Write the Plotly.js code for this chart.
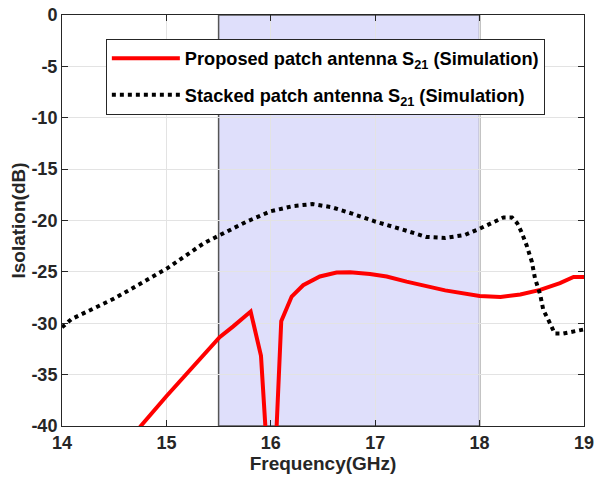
<!DOCTYPE html>
<html>
<head>
<meta charset="utf-8">
<script src="https://cdn.plot.ly/plotly-3.0.1.min.js"></script>
<style>html,body{margin:0;padding:0;background:#fff;}#chart{width:608px;height:477px;}</style>
</head>
<body>
<div id="chart"></div>
<script>
// Proposed patch antenna S21 (Simulation)
const proposedFreq = [14.6, 14.763, 15.0, 15.32, 15.51, 15.64, 15.807, 15.906, 15.944, 15.96, 16.04, 16.056, 16.10, 16.2, 16.31, 16.47, 16.63, 16.76, 16.95, 17.11, 17.3, 17.67, 18.0, 18.2, 18.39, 18.58, 18.77, 18.9, 19.0];
const proposedS21  = [-42, -39.9, -37.1, -33.5, -31.35, -30.3, -28.86, -33.17, -39.9, -42, -42, -40.0, -29.8, -27.4, -26.3, -25.45, -25.07, -25.03, -25.2, -25.45, -25.95, -26.8, -27.35, -27.45, -27.2, -26.75, -26.1, -25.5, -25.5];

// Stacked patch antenna S21 (Simulation)
const stackedFreq = [14.0, 14.09, 14.5, 15.0, 15.36, 15.5, 15.77, 16.0, 16.21, 16.4, 16.58, 16.77, 17.0, 17.3, 17.49, 17.67, 17.86, 18.0, 18.15, 18.23, 18.31, 18.36, 18.40, 18.45, 18.50, 18.53, 18.58, 18.61, 18.66, 18.72, 18.80, 18.96, 19.0];
const stackedS21  = [-30.4, -29.6, -27.6, -24.7, -22.2, -21.5, -20.1, -19.1, -18.6, -18.4, -18.7, -19.3, -20.1, -21.0, -21.6, -21.7, -21.4, -20.8, -20.1, -19.7, -19.7, -20.26, -21.1, -22.4, -24.0, -25.6, -27.2, -28.7, -29.7, -31.0, -31.0, -30.6, -30.6];

const bandStart = 15.5, bandEnd = 18;
const xTicks = [14, 15, 16, 17, 18, 19];
const yTicks = [0, -5, -10, -15, -20, -25, -30, -35, -40];

const FONT = 'Liberation Sans, Arial, sans-serif';
const axisCommon = {
  showline: true, linecolor: '#262626', linewidth: 1, mirror: 'ticks',
  ticks: 'inside', ticklen: 6, tickcolor: '#262626',
  showgrid: true, gridcolor: '#e3e3e3', gridwidth: 1, zeroline: false,
  tickfont: {family: FONT, size: 18, color: '#262626', weight: 'bold'}
};

const traces = [
  {x: proposedFreq, y: proposedS21, mode: 'lines', type: 'scatter', legendgroup: 'a',
   name: '<b>Proposed patch antenna S<sub>21</sub> (Simulation)</b>',
   line: {color: '#ff0000', width: 4}},
  {x: stackedFreq, y: stackedS21, mode: 'lines', type: 'scatter', legendgroup: 'b',
   name: '<b>Stacked patch antenna S<sub>21</sub> (Simulation)</b>',
   line: {color: '#000000', width: 4, dash: 'dot'}}
];

const layout = {
  width: 608, height: 477,
  margin: {l: 62, r: 24, t: 15, b: 51},
  paper_bgcolor: '#fff', plot_bgcolor: '#fff',
  showlegend: true,
  legend: {x: 0.084, y: 0.942, xanchor: 'left', yanchor: 'top',
    bordercolor: '#262626', borderwidth: 1, bgcolor: '#fff',
    font: {family: FONT, size: 18.2, color: '#000'},
    itemwidth: 68, tracegroupgap: 10},
  xaxis: Object.assign({}, axisCommon, {range: [14, 19], tickvals: xTicks, ticktext: xTicks.map(String),
    title: {text: '<b>Frequency(GHz)</b>', standoff: 2, font: {family: FONT, size: 19, color: '#262626'}}}),
  yaxis: Object.assign({}, axisCommon, {range: [-40, 0], tickvals: yTicks, ticktext: yTicks.map(String),
    title: {text: '<b>Isolation(dB)</b>', standoff: 0, font: {family: FONT, size: 19, color: '#262626'}}}),
  shapes: [{type: 'rect', xref: 'x', yref: 'paper', x0: bandStart, x1: bandEnd, y0: 0, y1: 1,
    fillcolor: 'rgba(210,210,250,0.7)', line: {color: '#555', width: 1.5}, layer: 'below'}]
};

Plotly.newPlot('chart', traces, layout, {displayModeBar: false, staticPlot: true});
</script>
</body>
</html>
